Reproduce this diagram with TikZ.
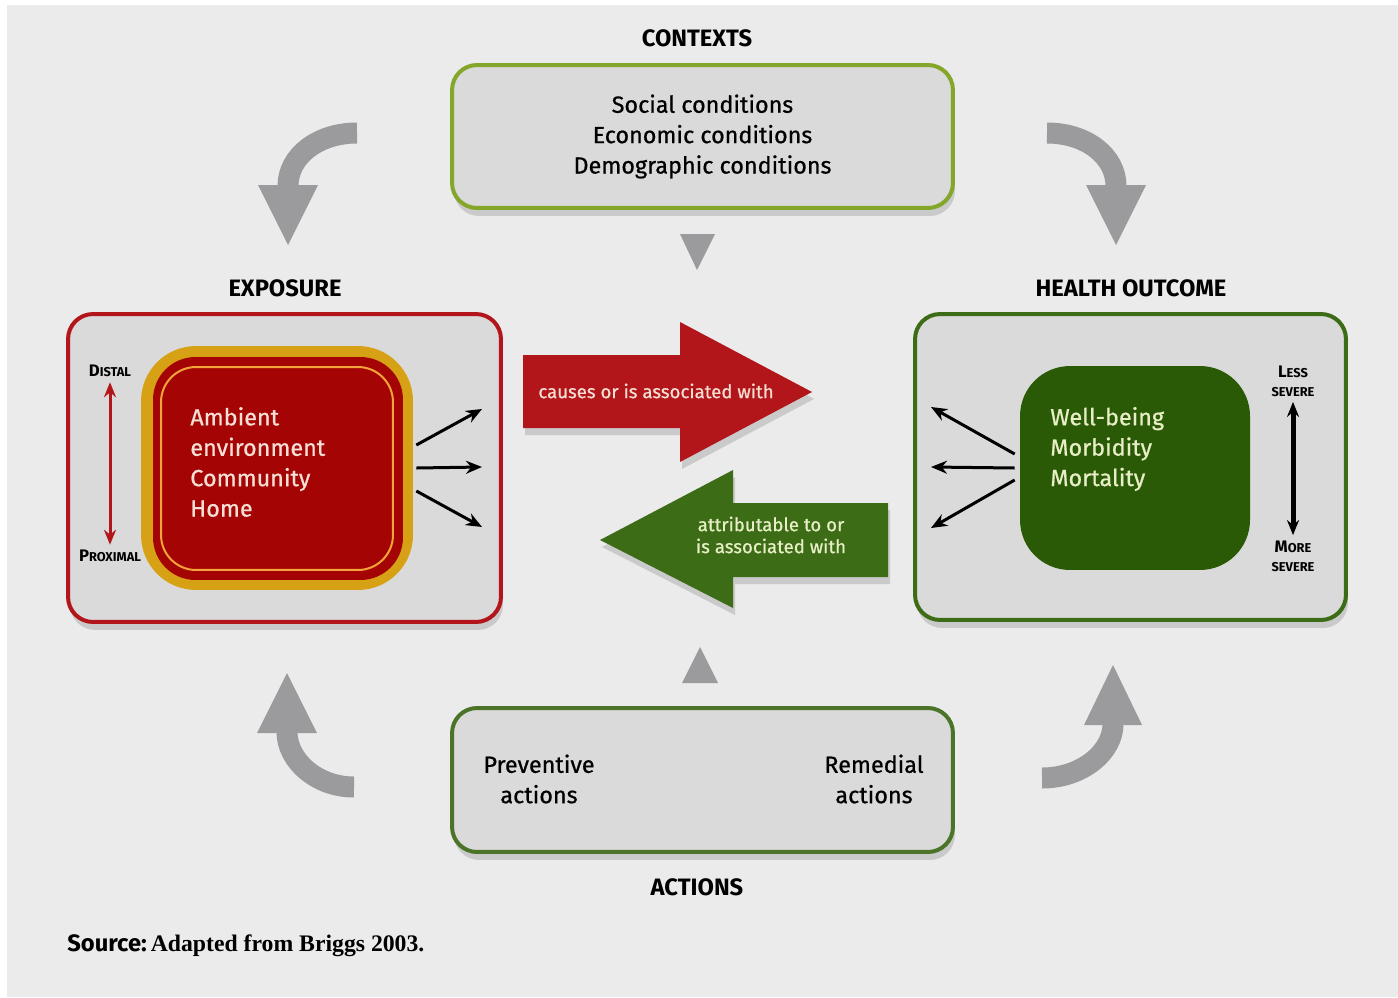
\documentclass[tikz,border=0pt]{standalone}
\usepackage{fontspec}
\setmainfont{Fira Sans}
\newfontfamily\medfont{Fira Sans}[FakeBold=0.7]
\newfontfamily\srcfont{Liberation Serif}
\usetikzlibrary{shadows,arrows.meta}

\definecolor{bg}{HTML}{EBEBEB}
\definecolor{boxgray}{HTML}{DADADB}
\definecolor{expred}{HTML}{B3161A}
\definecolor{deepred}{HTML}{A50404}
\definecolor{gold}{HTML}{D6A114}
\definecolor{ltorange}{HTML}{F2A43A}
\definecolor{outgreen}{HTML}{3D6C16}
\definecolor{deepgreen}{HTML}{2B5A06}
\definecolor{ctxgreen}{HTML}{84A62A}
\definecolor{actgreen}{HTML}{4C7428}
\definecolor{arrgray}{HTML}{9B9B9D}
\definecolor{paletext}{HTML}{E8EFC6}
\definecolor{pinktext}{HTML}{F6DFD4}

\newcommand{\fsc}[2]{{\fontsize{9.5}{10}\selectfont #1}{\fontsize{7.3}{10}\selectfont #2}}

\begin{document}
\begin{tikzpicture}[x=0.02cm,y=-0.02cm,
  big box/.style={rounded corners=0.5cm,fill=boxgray,line width=0.08cm,
    drop shadow={shadow xshift=0.04cm,shadow yshift=-0.16cm,opacity=0.3}},
  head/.style={font=\bfseries\fontsize{13.5}{15}\selectfont},
  box text/.style={font=\medfont\fontsize{13.3}{17.3}\selectfont,align=center},
  in text/.style={anchor=west,inner sep=0,align=left,font=\medfont\fontsize{13.3}{17.3}\selectfont},
  small lab/.style={inner sep=0,align=center,font=\bfseries},
  thin arrow/.style={line width=0.06cm,-{Stealth[length=0.32cm,width=0.26cm]}},
  scale arrow/.style={draw,line width=0.06cm,{Stealth[length=0.3cm,width=0.24cm]}-{Stealth[length=0.3cm,width=0.24cm]},
    shorten >=0.1cm,shorten <=0.1cm},
  turn/.style={draw=arrgray,line width=0.42cm},
  block label/.style={font=\medfont\fontsize{10.6}{12.5}\selectfont,align=center}]

\useasboundingbox (0,0) rectangle (1398,997);
\fill[bg] (7,5) rectangle (1398,997);

% contexts
\node[head] (ctxh) at (697,38) {CONTEXTS};
\node[big box,draw=ctxgreen,minimum width=10.02cm,minimum height=2.86cm,box text] (ctx) at (702.5,136.5)
  {Social conditions\\Economic conditions\\Demographic conditions};
\fill[arrgray] (680,234) -- (715,234) -- (697,270) -- cycle;

% exposure
\node[head] (exph) at (285,288) {EXPOSURE};
\node[big box,draw=expred,minimum width=8.66cm,minimum height=6.16cm] (exp) at (284.5,468) {};
\node[fill=gold,rounded corners=1.1cm,minimum width=5.44cm,minimum height=4.88cm] (gold) at (277,468) {};
\node[fill=deepred,rounded corners=0.85cm,minimum width=5cm,minimum height=4.46cm] (amb) at (278,468.5) {};
\node[draw=ltorange,line width=0.04cm,rounded corners=0.7cm,minimum width=4.64cm,minimum height=4.06cm] (ring) at (277,468.5) {};
\node[in text,text=pinktext] (ambtxt) at (190,462) {Ambient\\environment\\Community\\Home};
\node[small lab] (dist) at (110,371) {\fsc{D}{ISTAL}};
\node[small lab] (prox) at (110,556) {\fsc{P}{ROXIMAL}};
\path[scale arrow,draw=expred] (dist) edge (prox);
\coordinate (e1) at (482,409);
\coordinate (e2) at (482,467);
\coordinate (e3) at (482,527);
\draw[thin arrow] ([xshift=0.06cm,yshift=0.46cm]gold.east) -- (e1);
\draw[thin arrow] ([xshift=0.06cm]gold.east) -- (e2);
\draw[thin arrow] ([xshift=0.06cm,yshift=-0.46cm]gold.east) -- (e3);

% health outcome
\node[head] (hlth) at (1131,288) {HEALTH OUTCOME};
\node[big box,draw=outgreen,minimum width=8.62cm,minimum height=6.12cm] (hbox) at (1130.5,467) {};
\node[fill=deepgreen,rounded corners=1cm,minimum width=4.6cm,minimum height=4.08cm] (well) at (1135,468) {};
\node[in text,text=paletext] (welltxt) at (1050,449) {Well-being\\Morbidity\\Mortality};
\node[small lab] (less) at (1293,381) {\fsc{L}{ESS}\\[-1pt]\fsc{}{SEVERE}};
\node[small lab] (more) at (1293,556) {\fsc{M}{ORE}\\[-1pt]\fsc{}{SEVERE}};
\path[scale arrow,line width=0.1cm] (less) edge (more);
\coordinate (h1) at (931,407);
\coordinate (h2) at (931,467);
\coordinate (h3) at (931,528);
\draw[thin arrow] ([xshift=-0.1cm,yshift=0.28cm]well.west) -- (h1);
\draw[thin arrow] ([xshift=-0.1cm]well.west) -- (h2);
\draw[thin arrow] ([xshift=-0.1cm,yshift=-0.24cm]well.west) -- (h3);

% block arrows
\fill[expred,drop shadow={shadow xshift=0.04cm,shadow yshift=-0.14cm,opacity=0.3}]
  (523,355) -- (680,355) -- (680,322) -- (812,392) -- (680,462) -- (680,428) -- (523,428) -- cycle;
\node[block label,text=pinktext] (cause) at (656,391) {causes or is associated with};
\fill[outgreen,drop shadow={shadow xshift=0.04cm,shadow yshift=-0.14cm,opacity=0.3}]
  (888,503) -- (733,503) -- (733,470) -- (600,540) -- (733,608) -- (733,577) -- (888,577) -- cycle;
\node[block label,text=paletext] (attr) at (771,535) {attributable to or\\is associated with};

% actions
\fill[arrgray] (682,683) -- (718,683) -- (700,647) -- cycle;
\node[big box,draw=actgreen,minimum width=10.02cm,minimum height=2.88cm] (act) at (702.5,780) {};
\node[box text] (prev) at (539,779) {Preventive\\actions};
\node[box text] (rem) at (874,779) {Remedial\\actions};
\node[head] (acth) at (697,887) {ACTIONS};

% gray turning arrows
\draw[turn] (357,133) .. controls (318,133) and (288,156) .. (288,186);
\fill[arrgray] (258,185) -- (318,185) -- (288,245) -- cycle;
\draw[turn] (1047,133) .. controls (1086,133) and (1116,156) .. (1116,186);
\fill[arrgray] (1086,185) -- (1146,185) -- (1116,245) -- cycle;
\draw[turn] (354,787) .. controls (316,787) and (287,760) .. (287,732);
\fill[arrgray] (257,733) -- (317,733) -- (287,673) -- cycle;
\draw[turn] (1042,778) .. controls (1082,778) and (1113,752) .. (1113,724);
\fill[arrgray] (1084,725) -- (1142,725) -- (1113,665) -- cycle;

\node[anchor=west,inner sep=0,font=\fontsize{13.5}{15}\selectfont] (src) at (67,946)
  {\textbf{Source:}\,{\srcfont\bfseries Adapted from Briggs 2003.}};
\end{tikzpicture}
\end{document}
